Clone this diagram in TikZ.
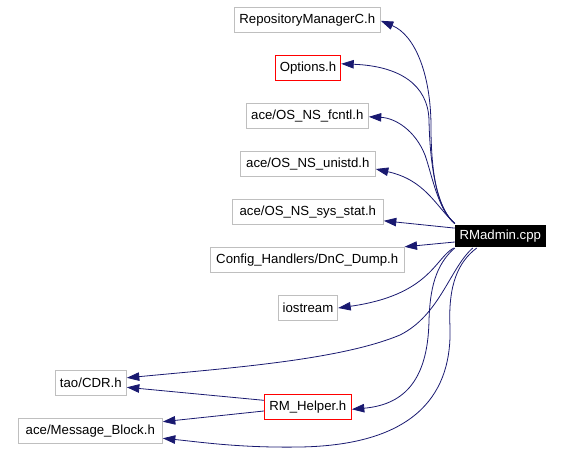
\documentclass[tikz,border=0pt]{standalone}
\usepackage{fontspec}
\setmainfont{Liberation Sans}
\usetikzlibrary{arrows.meta,calc}
\definecolor{edgeblue}{HTML}{191970}
\definecolor{boxgray}{HTML}{BFBFBF}
\tikzset{
  hdr/.style={draw=boxgray, line width=1pt, inner sep=0pt, text=black,
    font=\fontsize{13.2}{15}\selectfont},
  redhdr/.style={hdr, draw=red},
  srcbox/.style={fill=black, inner sep=0pt, text=white,
    font=\fontsize{13.2}{15}\selectfont},
  dep/.style={draw=edgeblue, line width=0.8pt,
    -{Triangle[length=12.5pt,width=8.5pt]}}
}
\begin{document}
\begin{tikzpicture}[x=1pt,y=-1pt]
\useasboundingbox (0,0) rectangle (563,475);
\node[hdr, minimum width=146pt, minimum height=25pt] (repo) at (307.3,19.8) {RepositoryManagerC.h};
\node[redhdr, minimum width=65.4pt, minimum height=25pt] (opt) at (308,67.8) {Options.h};
\node[hdr, minimum width=122pt, minimum height=25pt] (fcntl) at (307.3,115.8) {ace/OS\_NS\_fcntl.h};
\node[hdr, minimum width=135pt, minimum height=24.6pt] (unistd) at (307.8,164) {ace/OS\_NS\_unistd.h};
\node[hdr, minimum width=151pt, minimum height=25pt] (sysstat) at (307.8,211.8) {ace/OS\_NS\_sys\_stat.h};
\node[hdr, minimum width=193.7pt, minimum height=25.4pt] (dnc) at (307.2,260) {Config\_Handlers/DnC\_Dump.h};
\node[hdr, minimum width=59.4pt, minimum height=25.4pt] (ios) at (308,308) {iostream};
\node[srcbox, minimum width=90.7pt, minimum height=22.6pt] (rm) at (500.3,236) {RMadmin.cpp};
\node[hdr, minimum width=71pt, minimum height=25pt] (cdr) at (90.8,382.8) {tao/CDR.h};
\node[redhdr, minimum width=87pt, minimum height=25pt] (helper) at (307.8,406.8) {RM\_Helper.h};
\node[hdr, minimum width=144pt, minimum height=24.6pt] (mb) at (90.3,431) {ace/Message\_Block.h};

% edges from RMadmin.cpp
\draw[dep] ($(rm.north west)+(0,-1)$) .. controls (440,210) and (432,185) .. (431,133)
  .. controls (432,75) and (415,35) .. ($(repo.east)+(0,1)$);
\draw[dep] ($(rm.north west)+(0,-1)$) .. controls (438,210) and (430,170) .. (429,120)
  .. controls (428,85) and (400,66) .. ($(opt.east)+(0,-4)$);
\draw[dep] ($(rm.north west)+(0,-1)$) .. controls (438,210) and (432,175) .. (425,155)
  .. controls (415,130) and (395,118) .. ($(fcntl.east)+(0,1)$);
\draw[dep] ($(rm.north west)+(0,-1)$) .. controls (435,205) and (425,180) .. ($(unistd.east)+(0,5)$);
\draw[dep] ($(rm.north west)+(0,3.6)$) -- ($(sysstat.east)+(0,9)$);
\draw[dep] ($(rm.west)+(0,6)$) -- (dnc.north east);
\draw[dep] ($(rm.south west)+(-1,0.5)$) .. controls (435,258) and (430,295) .. (ios.east);
\draw[dep] ($(rm.south west)+(18,0.5)$) .. controls (450,268) and (440,315) .. (400,335)
  .. controls (340,360) and (230,368) .. ($(cdr.east)+(0,-5)$);
\draw[dep] ($(rm.south west)+(0,0.5)$) .. controls (435,265) and (430,290) .. (429,320)
  .. controls (428,385) and (400,405) .. ($(helper.east)+(0,2.5)$);
\draw[dep] ($(rm.south west)+(22,0.5)$) .. controls (458,262) and (448,285) .. (450,327)
  .. controls (452,390) and (420,445) .. (300,447)
  .. controls (240,448) and (200,442) .. ($(mb.east)+(0,7.3)$);
% edges from RM_Helper.h
\draw[dep] ($(helper.west)+(0,-6.5)$) -- ($(cdr.east)+(0,4.5)$);
\draw[dep] ($(helper.west)+(0,4.2)$) -- ($(mb.east)+(0,-9.3)$);
\end{tikzpicture}
\end{document}
